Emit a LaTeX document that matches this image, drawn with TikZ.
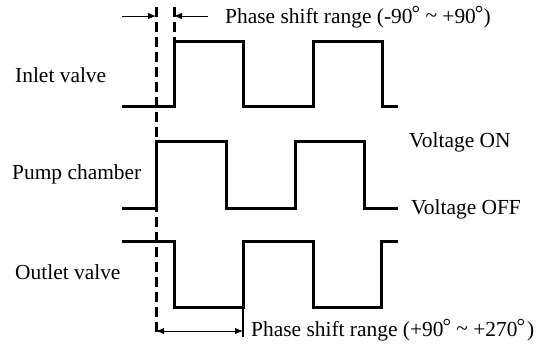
\documentclass[tikz,border=0pt]{standalone}
\usepackage{fontspec}
\setmainfont{Liberation Serif}
\usetikzlibrary{arrows.meta}
\newcommand{\dg}{\kern-1pt\raisebox{2.5pt}{°}}
\begin{document}
\begin{tikzpicture}[x=1bp,y=-1bp,
  wave/.style={line width=3bp, line join=miter, line cap=butt},
  refline/.style={line width=3bp, dash pattern=on 10bp off 5bp},
  dimline/.style={line width=0.9bp},
  tip/.style={-{Latex[length=8bp,width=6.5bp]}},
  lbl/.style={anchor=base west, inner sep=0pt, font=\fontsize{21.5}{24}\selectfont}]
\useasboundingbox (0,0) rectangle (539,343);
% labels
\node[lbl] (inlet) at (15,82) {Inlet valve};
\node[lbl] (pump) at (12,179) {Pump chamber};
\node[lbl] (outlet) at (15,279) {Outlet valve};
\node[lbl] (von) at (409,147) {Voltage ON};
\node[lbl] (voff) at (411,214) {Voltage OFF};
\node[lbl] (ps1) at (225,23) {Phase shift range (-90\dg{} \raisebox{1pt}{\~{}} +90\dg)};
\node[lbl] (ps2) at (251,336) {Phase shift range (+90\dg{} \raisebox{1pt}{\~{}} +270\dg\kern2pt)};
% reference dashed lines
\coordinate (d1t) at (156,7);
\coordinate (d1b) at (156,336);
\coordinate (d2t) at (174,7);
\coordinate (d2b) at (174,41);
\draw[refline] (d1t) -- (d1b);
\draw[refline] (d2t) -- (d2b);
% inlet valve
\draw[wave] (122,106) -- (174,106) -- (174,41) -- (243,41) -- (243,106) -- (313,106) -- (313,41) -- (382,41) -- (382,106) -- (398,106);
% pump chamber
\draw[wave] (122,208) -- (156,208) -- (156,141) -- (226,141) -- (226,208) -- (295,208) -- (295,141) -- (364,141) -- (364,208) -- (398,208);
% outlet valve
\draw[wave] (122,241) -- (174,241) -- (174,307) -- (243,307) -- (243,241) -- (313,241) -- (313,307) -- (381,307) -- (381,241) -- (398,241);
% top dimension arrows
\coordinate (a1s) at (122,16);
\coordinate (a1e) at (156,16);
\coordinate (a2s) at (208,16);
\coordinate (a2e) at (174,16);
\draw[dimline,tip] (a1s) -- (a1e);
\draw[dimline,tip] (a2s) -- (a2e);
% bottom dimension
\coordinate (t2t) at (243,307);
\coordinate (t2b) at (243,337);
\draw[line width=1.6bp] (t2t) -- (t2b);
\coordinate (b1) at (156,331);
\coordinate (b2) at (243,331);
\draw[dimline,{Latex[length=8bp,width=6.5bp]}-{Latex[length=8bp,width=6.5bp]}] (b1) -- (b2);
\end{tikzpicture}
\end{document}
